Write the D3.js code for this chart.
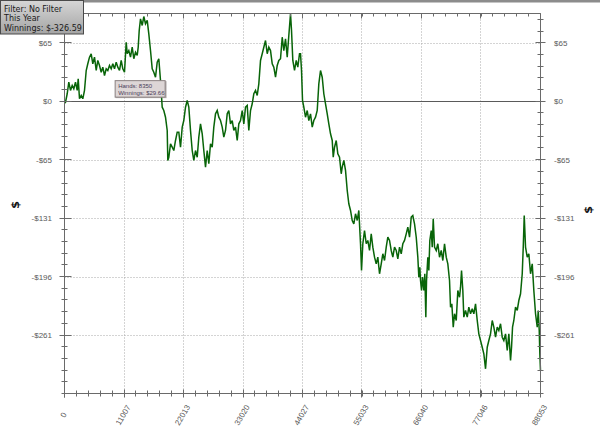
<!DOCTYPE html>
<html><head><meta charset="utf-8">
<script src="https://cdn.jsdelivr.net/npm/d3@7"></script>
<style>body{margin:0;background:#fff}svg{display:block}</style>
</head><body>
<svg id="c" width="600" height="434"></svg>
<script>
const hands = [0,185,500,796,1110,1425,1720,2035,2350,2535,2775,3090,3385,3700,4015,4310,4625,4940,5236,5550,5865,6160,6475,6790,7086,7400,7715,8010,8325,8640,8936,9250,9565,9860,10175,10490,10786,11100,11415,11600,11896,12210,12525,12820,13135,13450,13635,13820,14060,14375,14670,14985,15300,15596,15910,16225,16520,16835,17150,17446,17760,18075,18370,18685,19000,19110,19296,19610,19925,20220,20535,20850,21146,21460,21775,22070,22385,22700,22996,23310,23625,23920,24235,24550,24846,25160,25475,25770,26085,26400,26696,27010,27325,27620,27935,28250,28546,28860,29175,29470,29785,30100,30396,30710,31025,31320,31635,31950,32246,32560,32875,33170,33485,33800,34096,34410,34725,35020,35335,35650,35946,36260,36575,36870,37185,37500,37796,38110,38425,38720,39035,39350,39646,39960,40275,40570,40885,41200,41496,41810,41995,42236,42550,42865,43160,43475,43660,43845,44030,44270,44585,44900,45196,45510,45825,46120,46435,46750,47046,47360,47675,47970,48285,48600,48896,49210,49525,49710,49950,50265,50560,50875,51190,51375,51670,51985,52300,52596,52910,53225,53520,53835,54150,54446,54760,54945,55186,55500,55815,56110,56425,56740,57036,57350,57665,57960,58275,58590,58886,59200,59515,59810,60125,60440,60736,61050,61365,61660,61975,62290,62586,62900,63215,63510,63825,64140,64436,64750,65065,65360,65546,65730,65860,66045,66230,66470,66655,66840,66970,67210,67396,67580,67840,68025,68210,68450,68765,69060,69375,69690,69986,70300,70615,70910,71225,71410,71650,71910,72150,72465,72760,73075,73260,73445,73686,73870,74185,74500,74796,75110,75425,75720,76035,76350,76646,76960,77275,77570,77885,78200,78496,78810,79125,79420,79735,80050,80346,80660,80975,81270,81585,81900,82196,82510,82695,82880,83120,83435,83750,84046,84360,84675,84860,85045,85285,85600,85896,86210,86525,86820,87135,87450,87635,87820,87930,88053];
const winnings = [0,-1.1,8.3,21.2,12.0,17.5,13.9,21.2,12.0,25.0,2.7,6.4,2.7,12.0,34.3,41.8,49.2,53.0,41.8,49.2,34.3,45.5,39.9,32.4,38.0,28.7,36.2,34.3,39.9,36.2,41.8,36.2,43.6,38.0,34.3,45.5,36.2,32.4,65.9,53.0,56.6,49.2,60.3,47.4,54.7,51.1,60.3,79.0,92.0,84.6,94.6,86.5,90.2,75.3,56.6,36.2,32.4,26.8,43.6,47.4,23.1,-6.7,-10.4,-17.9,-32.7,-66.2,-62.6,-47.6,-51.4,-55.1,-43.9,-34.6,-34.6,-51.4,-29.0,-21.6,-6.7,0.8,-6.7,-32.7,-55.1,-66.2,-55.1,-62.6,-40.2,-25.3,-36.4,-55.1,-73.7,-55.1,-69.9,-47.6,-51.4,-29.0,-14.1,-10.4,-17.9,-21.6,-29.0,-40.2,-32.7,-14.1,-10.4,-25.3,-21.6,-32.7,-29.0,-43.9,-25.3,-21.6,-10.4,-25.3,-6.7,-4.8,-32.7,-10.4,-2.9,8.3,12.0,6.4,19.4,45.5,53.0,60.3,67.8,53.0,60.3,56.6,41.8,38.0,26.8,39.9,45.5,47.4,71.5,56.6,69.7,49.2,73.4,97.7,79.0,45.5,34.3,45.5,38.0,53.0,53.0,34.3,0.8,-6.7,-17.9,-10.4,-21.6,-14.1,-29.0,-21.6,-17.9,-10.4,19.4,34.3,26.8,8.3,-2.9,-14.1,-25.3,-36.4,-43.9,-62.6,-51.4,-43.9,-58.8,-62.6,-81.1,-73.7,-66.2,-77.4,-99.8,-114.6,-122.1,-133.3,-137.0,-125.8,-133.3,-122.1,-159.3,-189.1,-159.3,-144.5,-159.3,-155.6,-166.8,-148.2,-163.1,-174.3,-181.7,-174.3,-192.8,-181.7,-170.5,-178.0,-163.1,-151.9,-155.6,-166.8,-174.3,-163.1,-166.8,-176.1,-163.1,-170.5,-159.3,-155.6,-148.2,-140.8,-152.0,-129.6,-127.7,-137.0,-152.0,-174.3,-196.6,-185.5,-200.3,-211.5,-196.6,-211.5,-192.8,-241.3,-200.3,-174.3,-189.2,-155.6,-144.5,-163.1,-131.4,-163.1,-166.8,-159.3,-174.3,-166.8,-178.0,-159.3,-174.3,-181.7,-200.3,-230.2,-226.4,-252.5,-237.5,-245.0,-211.5,-219.0,-207.8,-189.2,-211.5,-241.3,-233.8,-241.3,-230.1,-237.5,-231.9,-237.5,-226.4,-245.0,-259.9,-267.4,-274.9,-282.2,-299.0,-274.9,-267.4,-259.9,-245.0,-252.5,-263.7,-252.5,-256.2,-248.7,-263.7,-267.4,-259.9,-278.6,-259.9,-289.7,-274.9,-252.5,-245.0,-230.1,-233.8,-222.7,-215.2,-192.8,-163.1,-127.7,-163.1,-174.3,-170.5,-192.8,-181.7,-211.5,-237.5,-252.5,-233.8,-256.2,-282.2,-300.9];
const xTickValues = [0,11007,22013,33020,44027,55033,66040,77046,88053];
const xTickLabels = ["0","11007","22013","33020","44027","55033","66040","77046","88053"];
const yTickValues = [65.32,0,-65.32,-130.64,-195.95,-261.27];
const yTickLabels = ["$65","$0","-$65","-$131","-$196","-$261"];
const yDomain = [-326.59, 97.98];
const xDomain = [0, 88053];
const infoLines = ["Filter: No Filter","This Year","Winnings: $-326.59"];
const hoverHands = 8350, hoverWinnings = 29.66;

const svg = d3.select("#c");
const L=64.5, R=540.5, T=13.5, B=393.5;
const x = d3.scaleLinear().domain(xDomain).range([L,R]);
const y = d3.scaleLinear().domain(yDomain).range([B,T]);
const axisCol="#6a6a6a", labCol="#5a5a5a";
const lab = "'Liberation Sans Narrow','Liberation Sans',Arial,sans-serif";

svg.append("rect").attr("width",600).attr("height",434).attr("fill","#fff");
svg.append("rect").attr("x",0).attr("y",0).attr("width",600).attr("height",2.5).attr("fill","#8c8c8c");

// grid
svg.append("g").selectAll("line").data(xTickValues.slice(1,-1)).join("line")
  .attr("x1",d=>Math.round(x(d)-0.5)+0.5).attr("x2",d=>Math.round(x(d)-0.5)+0.5).attr("y1",T).attr("y2",B)
  .attr("stroke","#a8a8a8").attr("stroke-dasharray","1,2");
svg.append("g").selectAll("line").data(yTickValues.filter(v=>v!==0)).join("line")
  .attr("x1",L).attr("x2",R).attr("y1",d=>Math.round(y(d))+0.5).attr("y2",d=>Math.round(y(d))+0.5)
  .attr("stroke","#a8a8a8").attr("stroke-dasharray","1,2");
svg.append("line").attr("x1",L).attr("x2",R).attr("y1",Math.round(y(0))+0.5).attr("y2",Math.round(y(0))+0.5)
  .attr("stroke","#5a5a5a").attr("stroke-width",1);

// line
svg.append("path").datum(hands.map((h,i)=>[h,winnings[i]]))
  .attr("d",d3.line().x(d=>x(d[0])).y(d=>y(d[1])))
  .attr("fill","none").attr("stroke","#086408").attr("stroke-width",1.5)
  .attr("stroke-linejoin","miter").attr("stroke-miterlimit",3);

// frame
const fr = svg.append("g").attr("stroke",axisCol).attr("stroke-width",1);
fr.append("line").attr("x1",L).attr("x2",R).attr("y1",T).attr("y2",T);
fr.append("line").attr("x1",L).attr("x2",R).attr("y1",B).attr("y2",B);
fr.append("line").attr("x1",L).attr("x2",L).attr("y1",T).attr("y2",B+4);
fr.append("line").attr("x1",R).attr("x2",R).attr("y1",T).attr("y2",B);

const xStep = (xDomain[1]-xDomain[0])/8, yStep = (yDomain[0])/5;
const xMinor = d3.range(41).map(i=>i*xStep/5);
const yMinor = d3.range(0,33).map(i=>yDomain[0]-i*yStep/5).filter(v=>v<=yDomain[1]+0.01);
const xr = v=>Math.round(x(v)-0.5)+0.5, yr = v=>Math.round(y(v)-0.5)+0.5;
fr.append("g").selectAll("line").data(xMinor).join("line")
  .attr("x1",xr).attr("x2",xr).attr("y1",B-3).attr("y2",B+3);
fr.append("g").selectAll("line").data(xTickValues).join("line")
  .attr("x1",xr).attr("x2",xr).attr("y1",B-4).attr("y2",B+4);
fr.append("g").selectAll("line").data(xMinor).join("line")
  .attr("x1",xr).attr("x2",xr).attr("y1",T).attr("y2",T+3);
fr.append("g").selectAll("line").data(xTickValues).join("line")
  .attr("x1",xr).attr("x2",xr).attr("y1",T).attr("y2",T+5);
fr.append("g").selectAll("line").data(yMinor).join("line")
  .attr("x1",L-3).attr("x2",L+3).attr("y1",yr).attr("y2",yr);
fr.append("g").selectAll("line").data(yTickValues).join("line")
  .attr("x1",L-5).attr("x2",L+7).attr("y1",yr).attr("y2",yr);
fr.append("g").selectAll("line").data(yMinor).join("line")
  .attr("x1",R-3).attr("x2",R+3).attr("y1",yr).attr("y2",yr);
fr.append("g").selectAll("line").data(yTickValues).join("line")
  .attr("x1",R-5).attr("x2",R+5).attr("y1",yr).attr("y2",yr);

// y labels
svg.append("g").selectAll("text").data(yTickValues).join("text")
  .attr("x",52).attr("y",d=>y(d)+3).attr("text-anchor","end")
  .attr("font-family",lab).attr("font-size",8).attr("fill",labCol).text((d,i)=>yTickLabels[i]);
svg.append("g").selectAll("text").data(yTickValues).join("text")
  .attr("x",554).attr("y",d=>y(d)+3).attr("text-anchor","start")
  .attr("font-family",lab).attr("font-size",8).attr("fill",labCol).text((d,i)=>yTickLabels[i]);
// x labels
svg.append("g").selectAll("text").data(xTickValues).join("text")
  .attr("transform",d=>`translate(${x(d)-1},415) rotate(-60)`)
  .attr("text-anchor","middle").attr("dy","0.35em")
  .attr("font-family",lab).attr("font-size",8).attr("fill",labCol).text((d,i)=>xTickLabels[i]);

// $ titles
[[15,205],[588,210]].forEach(p=>{
  svg.append("text").attr("transform",`translate(${p[0]},${p[1]}) rotate(-90)`)
    .attr("text-anchor","middle").attr("dy","0.35em")
    .attr("font-family","'DejaVu Sans',sans-serif").attr("font-weight","bold").attr("font-size",11)
    .attr("fill","#111").text("$");
});

// info box
const defs = svg.append("defs");
const gr = defs.append("linearGradient").attr("id","gb").attr("x1",0).attr("x2",0).attr("y1",0).attr("y2",1);
gr.append("stop").attr("offset","0%").attr("stop-color","#d6d6d6");
gr.append("stop").attr("offset","100%").attr("stop-color","#a4a4a4");
svg.append("rect").attr("x",0.5).attr("y",0.5).attr("width",83).attr("height",33.5)
  .attr("fill","url(#gb)").attr("stroke","#4a4a4a");
svg.append("g").selectAll("text").data(infoLines).join("text")
  .attr("x",4).attr("y",(d,i)=>11.5+i*9.5).attr("font-family","'DejaVu Sans',sans-serif")
  .attr("font-size",8).attr("fill","#1a1a1a").text(d=>d);

// hover tooltip
const tx = x(hoverHands)+5.5, ty = y(hoverWinnings)+6;
svg.append("rect").attr("x",tx+0.5).attr("y",ty+0.5).attr("width",51).attr("height",17)
  .attr("fill","#7a7070").attr("opacity",0.5);
svg.append("rect").attr("x",tx).attr("y",ty).attr("width",50).attr("height",16.5)
  .attr("fill","#ddd6d6").attr("stroke","#8a8080");
svg.append("text").attr("x",tx+3).attr("y",ty+7).attr("font-family","'Liberation Sans',Arial,sans-serif")
  .attr("font-size",6).attr("fill","#4a3c58").text("Hands: "+hoverHands);
svg.append("text").attr("x",tx+3).attr("y",ty+14).attr("font-family","'Liberation Sans',Arial,sans-serif")
  .attr("font-size",6).attr("fill","#4a3c58").text("Winnings: $"+hoverWinnings.toFixed(2));
</script>
</body></html>
